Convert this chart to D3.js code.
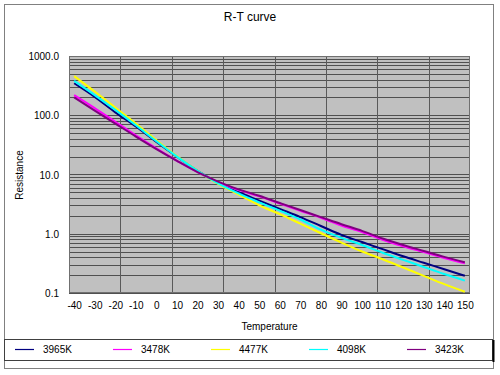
<!DOCTYPE html>
<html>
<head>
<meta charset="utf-8">
<script src="https://cdn.jsdelivr.net/npm/d3@7"></script>
<style>
body { margin: 0; background: #fff; }
text { font-family: "Liberation Sans", Arial, sans-serif; fill: #000; }
</style>
</head>
<body>
<svg class="chart" width="500" height="375"></svg>
<script>
// temperatures (deg C) and resistance values (kOhm)
var temps = [-40, -30, -20, -10, 0, 10, 20, 30, 40, 50, 60, 70, 80, 90, 100, 110, 120, 130, 140, 150];
var seriesNames = ["3965K", "3478K", "4477K", "4098K", "3423K"];
var seriesColors = ["#000080", "#ff00ff", "#ffff00", "#00ffff", "#800080"];
var r3965 = [347, 204, 112, 64.6, 35.5, 20.0, 11.5, 7.24, 5.01, 3.63, 2.63, 1.91, 1.35, 0.955, 0.724, 0.550, 0.417, 0.324, 0.251, 0.195];
var r3478 = [219, 132, 77.6, 45.7, 27.5, 17.0, 11.0, 7.41, 5.50, 4.27, 3.24, 2.45, 1.86, 1.38, 1.07, 0.794, 0.617, 0.490, 0.389, 0.316];
var r4477 = [457, 251, 135, 72.4, 38.0, 20.4, 11.5, 6.92, 4.57, 3.02, 2.14, 1.48, 1.02, 0.708, 0.501, 0.372, 0.269, 0.195, 0.141, 0.105];
var r4098 = [380, 219, 123, 67.6, 36.3, 20.0, 11.5, 7.08, 4.79, 3.39, 2.45, 1.74, 1.17, 0.851, 0.646, 0.479, 0.363, 0.275, 0.209, 0.162];
var r3423 = [200, 120, 72.4, 43.7, 26.9, 17.0, 11.0, 7.59, 5.62, 4.37, 3.31, 2.51, 1.91, 1.45, 1.12, 0.832, 0.646, 0.513, 0.407, 0.331];
var yTicks = [0.1, 1, 10, 100, 1000];
var allSeries = [r3965, r3478, r4477, r4098, r3423];

var svg = d3.select(".chart");
var pLeft = 69, pRight = 470, pTop = 56, pBottom = 293;

var x = d3.scaleLinear().domain([-42.5, 152.5]).range([pLeft, pRight]);
var y = d3.scaleLog().domain([0.1, 1000]).range([pBottom, pTop]);

// outer frame
svg.append("rect")
  .attr("x", 4.5).attr("y", 4.5).attr("width", 489).attr("height", 364)
  .attr("fill", "#fff").attr("stroke", "#808080");

// title
svg.append("text")
  .attr("x", 250).attr("y", 21)
  .attr("text-anchor", "middle")
  .style("font-size", "12px")
  .text("R-T curve");

// plot area
svg.append("rect")
  .attr("x", pLeft).attr("y", pTop).attr("width", pRight - pLeft).attr("height", pBottom - pTop)
  .attr("fill", "#c0c0c0");

// horizontal grid: decades and 2..9 inside each
var hGrid = [];
for (var d = 0.1; d < 999; d *= 10) {
  for (var k = 1; k < 10; k++) hGrid.push(d * k);
}
hGrid.push(1000);
svg.append("g").selectAll("line")
  .data(hGrid)
  .enter().append("line")
  .attr("x1", pLeft).attr("x2", pRight)
  .attr("y1", function(v) { return Math.round(y(v)) + 0.5; })
  .attr("y2", function(v) { return Math.round(y(v)) + 0.5; })
  .attr("stroke", "#505050").attr("stroke-width", 1);

// vertical grid every 25 degrees
var vGrid = d3.range(-42.5, 152.5, 25);
svg.append("g").selectAll("line")
  .data(vGrid)
  .enter().append("line")
  .attr("y1", pTop).attr("y2", pBottom)
  .attr("x1", function(v) { return Math.round(x(v)) + 0.5; })
  .attr("x2", function(v) { return Math.round(x(v)) + 0.5; })
  .attr("stroke", "#5a5a5a").attr("stroke-width", 1);

svg.append("rect")
  .attr("x", pLeft + 0.5).attr("y", pTop + 0.5).attr("width", pRight - pLeft - 1).attr("height", pBottom - pTop - 1)
  .attr("fill", "none").attr("stroke", "#707070");

// axes
var yAxis = d3.axisLeft(y).tickValues(yTicks).tickSize(0).tickPadding(10)
  .tickFormat(d3.format(".1f"));
var gy = svg.append("g")
  .attr("transform", "translate(" + pLeft + ",0)")
  .call(yAxis);
gy.select(".domain").remove();
gy.selectAll("text").style("font-size", "10px").attr("dy", "0.35em");

var xAxis = d3.axisBottom(x).tickValues(temps).tickSize(0).tickPadding(9)
  .tickFormat(function(t) { return String(t); });
var gx = svg.append("g")
  .attr("transform", "translate(0," + pBottom + ")")
  .call(xAxis);
gx.select(".domain").remove();
gx.selectAll("text").style("font-size", "10px");

svg.append("text")
  .attr("x", (pLeft + pRight) / 2).attr("y", 330)
  .attr("text-anchor", "middle")
  .style("font-size", "10px")
  .text("Temperature");

svg.append("text")
  .attr("transform", "translate(23,175) rotate(-90)")
  .attr("text-anchor", "middle")
  .style("font-size", "10px")
  .text("Resistance");

// curves
var line = d3.line()
  .x(function(d) { return x(d.t); })
  .y(function(d) { return y(d.r); })
  .curve(d3.curveMonotoneX);

allSeries.forEach(function(vals, i) {
  var pts = temps.map(function(t, j) { return {t: t, r: vals[j]}; });
  svg.append("path")
    .attr("d", line(pts))
    .attr("fill", "none")
    .attr("stroke", seriesColors[i])
    .attr("stroke-width", 2);
});

// legend
svg.append("rect")
  .attr("x", 4.5).attr("y", 339.5).attr("width", 488).attr("height", 21)
  .attr("fill", "#fff").attr("stroke", "#404040");
svg.append("line")
  .attr("x1", 493.5).attr("x2", 493.5).attr("y1", 340).attr("y2", 362)
  .attr("stroke", "#000").attr("stroke-width", 2);

var leg = svg.append("g").selectAll("g")
  .data(seriesNames)
  .enter().append("g")
  .attr("transform", function(dd, i) { return "translate(" + (15 + i * 98) + ",349)"; });
leg.append("line")
  .attr("x1", 0).attr("x2", 19).attr("y1", 0.5).attr("y2", 0.5)
  .attr("stroke", function(dd, i) { return seriesColors[i]; })
  .attr("stroke-width", 1.2);
leg.append("text")
  .attr("x", 28).attr("y", 4)
  .style("font-size", "10px")
  .text(function(dd) { return dd; });
</script>
</body>
</html>
